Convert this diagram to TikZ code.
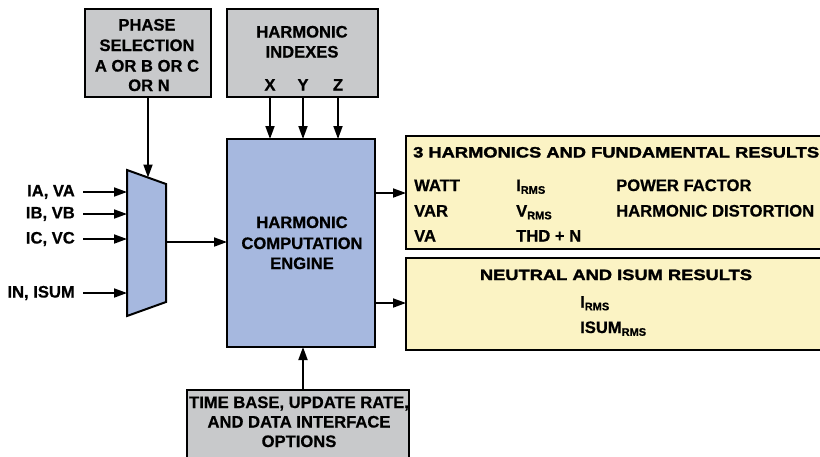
\documentclass[tikz,border=0pt]{standalone}
\usepackage{fontspec}
\setmainfont{Liberation Sans}[BoldFeatures={FakeBold=0.7}]
\newfontfamily\titlefont{Liberation Sans}[FakeStretch=1.22, BoldFeatures={FakeBold=2}]
\usetikzlibrary{arrows.meta}
\definecolor{boxgray}{RGB}{200,201,203}
\definecolor{boxblue}{RGB}{166,184,223}
\definecolor{boxyellow}{RGB}{251,243,196}
\newcommand{\rmssub}{\raisebox{-0.32ex}{\fontsize{11}{11}\selectfont RMS}}
\begin{document}
\begin{tikzpicture}[x=1pt,y=-1pt,
  bx/.style={draw=black, line width=2.3pt, inner sep=0pt, outer sep=0pt, anchor=north west},
  gbox/.style={bx, fill=boxgray},
  bbox/.style={bx, fill=boxblue},
  ybox/.style={bx, fill=boxyellow},
  txt/.style={font=\fontsize{16.6}{20}\selectfont\bfseries, inner sep=0pt, anchor=base},
  ttl/.style={font=\fontsize{15}{18}\selectfont\titlefont\bfseries, inner sep=0pt, anchor=base},
  arr/.style={line width=1.8pt, -{Triangle[length=13pt,width=9pt]}}
]
\useasboundingbox (0,0) rectangle (820,456);
\clip (0,0) rectangle (820,456);

% boxes
\node[gbox, minimum width=126pt, minimum height=88pt] (phase) at (85,9) {};
\node[gbox, minimum width=151pt, minimum height=88pt] (harm) at (227,9) {};
\node[bbox, minimum width=148pt, minimum height=208pt] (engine) at (227,139) {};
\node[gbox, minimum width=222pt, minimum height=90pt] (time) at (187,390) {};
\node[ybox, minimum width=430pt, minimum height=113pt] (res1) at (406,136) {};
\node[ybox, minimum width=430pt, minimum height=92pt] (res2) at (406,258) {};

% mux
\draw[line width=2pt, fill=boxblue, line join=miter] (127,170) -- (166,184) -- (166,302) -- (127,316) -- cycle;
\coordinate (muxtop) at (148,177.5);
\coordinate (inA) at (127,192);
\coordinate (inB) at (127,214);
\coordinate (inC) at (127,239);
\coordinate (inN) at (127,293);
\coordinate (muxout) at (166,242);

% phase selection text
\node[txt] (p1) at (147,30.5) {PHASE};
\node[txt] (p2) at (147,51) {SELECTION};
\node[txt] (p3) at (147,71.5) {A OR B OR C};
\node[txt] (p4) at (149,91) {OR N};

% harmonic indexes text
\node[txt] (h1) at (302,37.5) {HARMONIC};
\node[txt] (h2) at (302,57.5) {INDEXES};
\node[txt] (hx) at (270,90.5) {X};
\node[txt] (hy) at (303,90.5) {Y};
\node[txt] (hz) at (338,90.5) {Z};

% engine text
\node[txt] (e1) at (302,228) {HARMONIC};
\node[txt] (e2) at (302,249) {COMPUTATION};
\node[txt] (e3) at (302,269) {ENGINE};

% time base text
\node[txt] (t1) at (299,408) {TIME BASE, UPDATE RATE,};
\node[txt] (t2) at (299,427.5) {AND DATA INTERFACE};
\node[txt] (t3) at (299,447) {OPTIONS};

% input labels
\node[txt, anchor=east] (lA) at (75,192) {IA, VA};
\node[txt, anchor=east] (lB) at (75,214) {IB, VB};
\node[txt, anchor=east] (lC) at (75,239) {IC, VC};
\node[txt, anchor=east] (lN) at (75,293) {IN, ISUM};

% results 1
\node[ttl, anchor=base west] (r1t) at (413,157.5) {3 HARMONICS AND FUNDAMENTAL RESULTS};
\node[txt, anchor=base west] (r1a) at (414,191) {WATT};
\node[txt, anchor=base west] (r1b) at (414,216.5) {VAR};
\node[txt, anchor=base west] (r1c) at (414,241.5) {VA};
\node[txt, anchor=base west] (r1d) at (516,191) {I\rmssub};
\node[txt, anchor=base west] (r1e) at (516,216.5) {V\rmssub};
\node[txt, anchor=base west] (r1f) at (516,241.5) {THD + N};
\node[txt, anchor=base west] (r1g) at (616,191) {POWER FACTOR};
\node[txt, anchor=base west] (r1h) at (616,216.5) {HARMONIC DISTORTION};

% results 2
\node[ttl] (r2t) at (616,280) {NEUTRAL AND ISUM RESULTS};
\node[txt, anchor=base west] (r2a) at (580,307.5) {I\rmssub};
\node[txt, anchor=base west] (r2b) at (580,333) {ISUM\rmssub};

% connectors
\draw[arr] (phase.south) -- (muxtop);
\draw[arr] (hx |- harm.south) -- (hx |- engine.north);
\draw[arr] (hy |- harm.south) -- (hy |- engine.north);
\draw[arr] (hz |- harm.south) -- (hz |- engine.north);
\draw[arr] ([xshift=8pt]lA.east) -- (inA);
\draw[arr] ([xshift=8pt]lB.east) -- (inB);
\draw[arr] ([xshift=8pt]lC.east) -- (inC);
\draw[arr] ([xshift=8pt]lN.east) -- (inN);
\draw[arr] (muxout) -- (muxout -| engine.west);
\coordinate (o1) at (375,193);
\coordinate (o2) at (375,303);
\draw[arr] (o1) -- (o1 -| res1.west);
\draw[arr] (o2) -- (o2 -| res2.west);
\draw[arr] (hy |- time.north) -- (hy |- engine.south);
\end{tikzpicture}
\end{document}
